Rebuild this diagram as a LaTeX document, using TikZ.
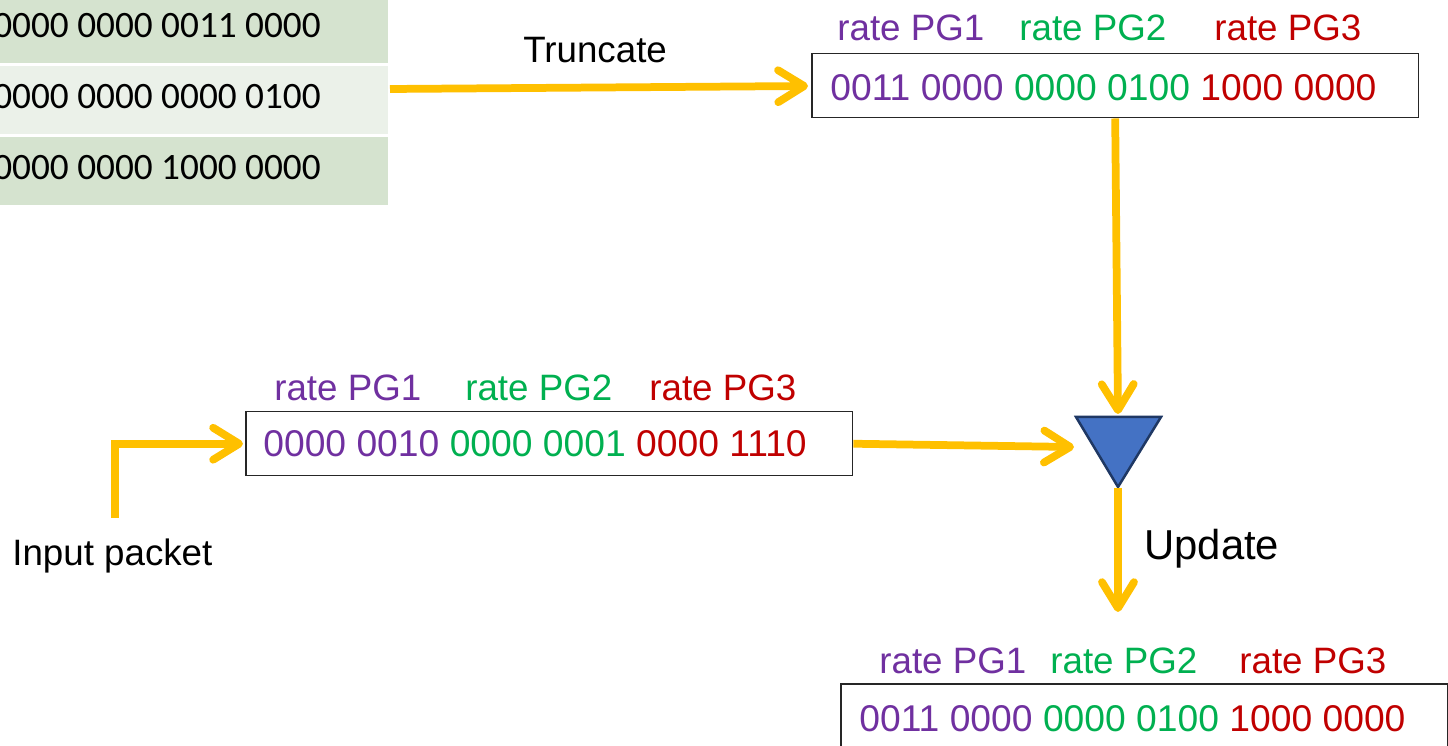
\documentclass[tikz,border=0pt]{standalone}
\usepackage{fontspec}
\setmainfont{Liberation Sans}
\newfontfamily\calib{Carlito}
\usetikzlibrary{arrows.meta}
\definecolor{ylw}{HTML}{FFC000}
\definecolor{purp}{HTML}{7030A0}
\definecolor{grn}{HTML}{00B050}
\definecolor{rd}{HTML}{C00000}
\definecolor{rowA}{HTML}{D5E3CF}
\definecolor{rowB}{HTML}{EBF1E9}
\definecolor{triblue}{HTML}{4472C4}
\definecolor{triedge}{HTML}{1F3864}
\begin{document}
\begin{tikzpicture}[x=0.02cm,y=-0.02cm,
  txt/.style={inner sep=0pt, anchor=base west, font=\fontsize{20.9}{25}\selectfont},
  boxtxt/.style={inner sep=0pt, anchor=base west, font=\fontsize{21.2}{25}\selectfont},
  bigtxt/.style={inner sep=0pt, anchor=base west, font=\fontsize{23.8}{28}\selectfont},
  celltxt/.style={inner sep=0pt, anchor=base east, font=\calib\fontsize{21.2}{25}\selectfont},
  rowcell/.style={inner sep=0pt, anchor=north east, minimum width=7.96cm, minimum height=1.36cm},
  regbox/.style={draw=black!85, line width=0.03cm, inner sep=0pt, anchor=north west, minimum width=12.14cm, minimum height=1.28cm},
  arr/.style={draw=ylw, line width=0.155cm, -{Straight Barb[length=0.52cm,width=0.64cm,round]}}]
\useasboundingbox (0,0) rectangle (1448,746);
\clip (0,0) rectangle (1448,746);
\fill[white] (0,0) rectangle (1448,746);
% table
\node[rowcell, fill=rowA] (row1) at (388,-5) {};
\node[rowcell, fill=rowB] (row2) at (388,66) {};
\node[rowcell, fill=rowA] (row3) at (388,137) {};
\node[celltxt] (r1t) at (321,38) {0000 0000 0011 0000};
\node[celltxt] (r2t) at (321,109) {0000 0000 0000 0100};
\node[celltxt] (r3t) at (321,180) {0000 0000 1000 0000};
% top box
\node[regbox] (topbox) at (811,53) {};
\node[txt, text=purp] (tl1) at (837,41) {rate PG1};
\node[txt, text=grn] (tl2) at (1019,41) {rate PG2};
\node[txt, text=rd] (tl3) at (1214,41) {rate PG3};
\node[boxtxt] (tt) at (830,101) {\textcolor{purp}{0011 0000} \textcolor{grn}{0000 0100} \textcolor{rd}{1000 0000}};
\node[txt] (trunc) at (523,63) {Truncate};
% middle box
\node[regbox] (midbox) at (245,411) {};
\node[txt, text=purp] (ml1) at (274,401) {rate PG1};
\node[txt, text=grn] (ml2) at (465,401) {rate PG2};
\node[txt, text=rd] (ml3) at (649,401) {rate PG3};
\node[boxtxt] (mt) at (263,457) {\textcolor{purp}{0000 0010} \textcolor{grn}{0000 0001} \textcolor{rd}{0000 1110}};
\node[txt] (inp) at (12,566) {Input packet};
% bottom box
\node[regbox] (botbox) at (840,683) {};
\node[txt, text=purp] (bl1) at (879,673) {rate PG1};
\node[txt, text=grn] (bl2) at (1050,673) {rate PG2};
\node[txt, text=rd] (bl3) at (1239,673) {rate PG3};
\node[boxtxt] (bt) at (859,731) {\textcolor{purp}{0011 0000} \textcolor{grn}{0000 0100} \textcolor{rd}{1000 0000}};
\node[bigtxt] (upd) at (1144,560) {Update};
% triangle
\draw[fill=triblue, draw=triedge, line width=0.05cm] (1076,417) -- (1161,417) -- (1118,487) -- cycle;
\coordinate (tritop) at (1118,414);
\coordinate (trileft) at (1074,447);
\coordinate (tribot) at (1118,488);
\coordinate (tstart) at (390,89);
\coordinate (tend) at (808,86);
\coordinate (uend) at (1118,612);
\coordinate (inpstart) at (115,518);
% connectors
\draw[arr] (tstart) -- (tend);
\draw[arr] (topbox.south) -- (tritop);
\draw[arr] (midbox.east) -- (trileft);
\draw[arr] (tribot) -- (uend);
\draw[arr, line cap=butt] (inpstart) |- ([xshift=-0.04cm]midbox.west);
\end{tikzpicture}
\end{document}
